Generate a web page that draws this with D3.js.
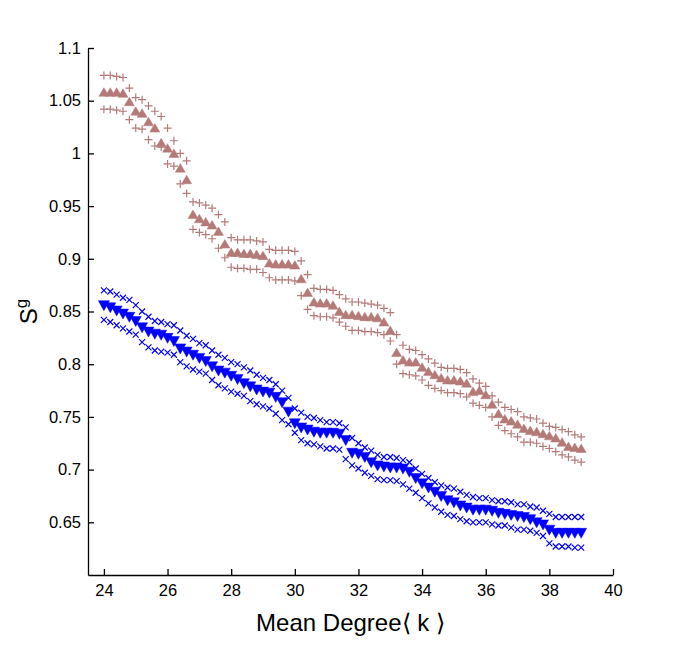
<!DOCTYPE html>
<html>
<head>
<meta charset="utf-8">
<script src="https://cdn.jsdelivr.net/npm/d3@7"></script>
<style>
    body { margin: 0; background: #fff; }
    text { font-family: "Liberation Sans", Arial, Helvetica, sans-serif; }
</style>
</head>
<body>
<svg id="chart" width="677" height="646"></svg>
<script>
// mean degree values, one per sample
const kValues = [
    24.0, 24.2, 24.4, 24.6, 24.8, 25.0, 25.2, 25.4, 25.6, 25.8,
    26.0, 26.2, 26.4, 26.6, 26.8, 27.0, 27.2, 27.4, 27.6, 27.8,
    28.0, 28.2, 28.4, 28.6, 28.8, 29.0, 29.2, 29.4, 29.6, 29.8,
    30.0, 30.2, 30.4, 30.6, 30.8, 31.0, 31.2, 31.4, 31.6, 31.8,
    32.0, 32.2, 32.4, 32.6, 32.8, 33.0, 33.2, 33.4, 33.6, 33.8,
    34.0, 34.2, 34.4, 34.6, 34.8, 35.0, 35.2, 35.4, 35.6, 35.8,
    36.0, 36.2, 36.4, 36.6, 36.8, 37.0, 37.2, 37.4, 37.6, 37.8,
    38.0, 38.2, 38.4, 38.6, 38.8, 39.0
];

// brown series (triangles up = mean, + = upper / lower)
const brownMean = [
    1.058, 1.058, 1.058, 1.057, 1.049, 1.040, 1.038, 1.030, 1.024, 1.010,
    1.005, 1.000, 0.986, 0.975, 0.942, 0.938, 0.935, 0.932, 0.926, 0.914,
    0.906, 0.906, 0.905, 0.905, 0.904, 0.903, 0.896, 0.895, 0.895, 0.895,
    0.894, 0.881, 0.868, 0.859, 0.858, 0.858, 0.856, 0.850, 0.847, 0.847,
    0.846, 0.845, 0.845, 0.844, 0.840, 0.832, 0.811, 0.804, 0.802, 0.802,
    0.797, 0.793, 0.790, 0.787, 0.785, 0.785, 0.784, 0.782, 0.774, 0.775,
    0.771, 0.762, 0.753, 0.748, 0.746, 0.743, 0.739, 0.737, 0.736, 0.734,
    0.732, 0.730, 0.726, 0.722, 0.721, 0.720
];
const brownUpper = [
    1.074, 1.074, 1.073, 1.072, 1.062, 1.053, 1.051, 1.045, 1.040, 1.035,
    1.024, 1.012, 1.000, 0.993, 0.954, 0.953, 0.951, 0.948, 0.942, 0.935,
    0.920, 0.918, 0.918, 0.918, 0.917, 0.916, 0.909, 0.908, 0.908, 0.908,
    0.907, 0.898, 0.885, 0.872, 0.871, 0.871, 0.870, 0.866, 0.862, 0.859,
    0.859, 0.858, 0.857, 0.856, 0.853, 0.849, 0.828, 0.818, 0.814, 0.813,
    0.809, 0.805, 0.801, 0.797, 0.796, 0.796, 0.795, 0.792, 0.786, 0.782,
    0.779, 0.770, 0.764, 0.759, 0.757, 0.755, 0.750, 0.749, 0.748, 0.744,
    0.741, 0.740, 0.738, 0.736, 0.733, 0.731
];
const brownLower = [
    1.042, 1.042, 1.041, 1.040, 1.032, 1.024, 1.023, 1.013, 1.007, 1.006,
    0.990, 0.988, 0.971, 0.962, 0.928, 0.925, 0.923, 0.919, 0.910, 0.901,
    0.892, 0.891, 0.891, 0.890, 0.890, 0.887, 0.882, 0.880, 0.880, 0.880,
    0.879, 0.865, 0.852, 0.846, 0.845, 0.845, 0.844, 0.840, 0.836, 0.832,
    0.832, 0.831, 0.831, 0.830, 0.828, 0.822, 0.800, 0.791, 0.790, 0.789,
    0.785, 0.780, 0.777, 0.775, 0.773, 0.773, 0.772, 0.769, 0.763, 0.761,
    0.759, 0.750, 0.742, 0.737, 0.734, 0.731, 0.726, 0.726, 0.725, 0.722,
    0.720, 0.717, 0.714, 0.712, 0.709, 0.707
];

// blue series (triangles down = mean, x = upper / lower)
const blueMean = [
    0.856, 0.854, 0.851, 0.848, 0.845, 0.841, 0.835, 0.831, 0.829, 0.828,
    0.825, 0.822, 0.815, 0.812, 0.809, 0.806, 0.803, 0.798, 0.794, 0.792,
    0.789, 0.786, 0.782, 0.779, 0.776, 0.774, 0.773, 0.769, 0.764, 0.755,
    0.744, 0.740, 0.738, 0.736, 0.735, 0.735, 0.735, 0.734, 0.728, 0.716,
    0.715, 0.712, 0.707, 0.704, 0.703, 0.702, 0.702, 0.701, 0.698, 0.692,
    0.687, 0.683, 0.679, 0.675, 0.671, 0.669, 0.666, 0.664, 0.662, 0.662,
    0.662, 0.661, 0.659, 0.658, 0.657, 0.656, 0.655, 0.653, 0.650, 0.648,
    0.643, 0.640, 0.640, 0.640, 0.640, 0.640
];
const blueUpper = [
    0.870, 0.869, 0.866, 0.863, 0.861, 0.856, 0.850, 0.845, 0.841, 0.840,
    0.838, 0.837, 0.832, 0.827, 0.824, 0.820, 0.818, 0.813, 0.809, 0.806,
    0.802, 0.800, 0.797, 0.794, 0.790, 0.787, 0.785, 0.781, 0.775, 0.768,
    0.758, 0.754, 0.750, 0.749, 0.747, 0.745, 0.745, 0.744, 0.740, 0.730,
    0.725, 0.721, 0.718, 0.714, 0.712, 0.712, 0.711, 0.709, 0.707, 0.701,
    0.696, 0.692, 0.688, 0.685, 0.683, 0.682, 0.679, 0.676, 0.674, 0.673,
    0.673, 0.671, 0.670, 0.670, 0.669, 0.667, 0.667, 0.665, 0.664, 0.661,
    0.658, 0.655, 0.655, 0.655, 0.655, 0.655
];
const blueLower = [
    0.842, 0.840, 0.837, 0.834, 0.831, 0.828, 0.821, 0.816, 0.813, 0.812,
    0.811, 0.809, 0.802, 0.798, 0.795, 0.793, 0.791, 0.785, 0.780, 0.777,
    0.774, 0.772, 0.770, 0.765, 0.762, 0.760, 0.758, 0.753, 0.747, 0.743,
    0.735, 0.728, 0.725, 0.724, 0.722, 0.720, 0.720, 0.719, 0.710, 0.704,
    0.701, 0.697, 0.694, 0.691, 0.690, 0.690, 0.689, 0.686, 0.682, 0.678,
    0.673, 0.668, 0.664, 0.660, 0.657, 0.656, 0.653, 0.651, 0.650, 0.650,
    0.650, 0.648, 0.647, 0.647, 0.645, 0.643, 0.643, 0.642, 0.640, 0.637,
    0.630, 0.627, 0.627, 0.627, 0.626, 0.626
];

const xTicks = [24, 26, 28, 30, 32, 34, 36, 38, 40];
const yTicks = [0.65, 0.7, 0.75, 0.8, 0.85, 0.9, 0.95, 1, 1.05, 1.1];

const brownColor = "#b47a78";
const blueColor = "#0000ff";

let margin = { top: 48, right: 64, bottom: 71, left: 88 };
let width = 677, height = 646;

const svg = d3.select("#chart");

let xScale = d3.scaleLinear()
    .domain([23.5, 40])
    .range([margin.left, width - margin.right]);
let yScale = d3.scaleLinear()
    .domain([0.6, 1.1])
    .range([height - margin.bottom, margin.top]);

// axes, ticks point inward
const xAxis = svg.append("g")
    .attr("transform", `translate(0, ${height - margin.bottom})`)
    .call(d3.axisBottom(xScale)
        .tickValues(xTicks)
        .tickSizeInner(-6)
        .tickSizeOuter(0)
        .tickPadding(9)
        .tickFormat(d3.format("d")));
const yAxis = svg.append("g")
    .attr("transform", `translate(${margin.left}, 0)`)
    .call(d3.axisLeft(yScale)
        .tickValues(yTicks)
        .tickSizeInner(-6)
        .tickSizeOuter(0)
        .tickPadding(7)
        .tickFormat(d => String(+d.toFixed(2))));
[xAxis, yAxis].forEach(a => {
    a.selectAll("path, line").attr("stroke", "#000").attr("stroke-width", 1.3);
    a.selectAll("text")
        .attr("fill", "#000")
        .style("font-size", "16.5px")
        .style("font-family", "'Liberation Sans', Arial, sans-serif");
});

svg.append("text")
    .attr("x", (margin.left + width - margin.right) / 2)
    .attr("y", 631)
    .attr("text-anchor", "middle")
    .style("font-size", "24px")
    .text("Mean Degree\u27E8 k \u27E9");

const yLab = svg.append("text")
    .attr("transform", `translate(37, ${(margin.top + height - margin.bottom) / 2}) rotate(-90)`)
    .attr("text-anchor", "middle")
    .style("font-size", "24px");
yLab.append("tspan").text("S");
yLab.append("tspan").attr("dy", -10).style("font-size", "17px").text("g");

// marker paths
const plus = (x, y) => `M${x - 4},${y}H${x + 4}M${x},${y - 4}V${y + 4}`;
const cross = (x, y) => `M${x - 3},${y - 3}L${x + 3},${y + 3}M${x - 3},${y + 3}L${x + 3},${y - 3}`;
const triUp = (x, y) => `M${x - 5},${y + 4}L${x + 5},${y + 4}L${x},${y - 4.5}Z`;
const triDown = (x, y) => `M${x - 5.5},${y - 4.5}L${x + 5.5},${y - 4.5}L${x},${y + 5.5}Z`;

function drawMarkers(values, shape, color, filled) {
    const pts = kValues.map((k, i) => ({ k: k, v: values[i] }));
    svg.append("g")
        .selectAll("path")
        .data(pts)
        .join("path")
        .attr("d", d => shape(xScale(d.k), yScale(d.v)))
        .attr("fill", filled ? color : "none")
        .attr("stroke", color)
        .attr("stroke-width", filled ? 0.5 : 1.2);
}

drawMarkers(brownUpper, plus, brownColor, false);
drawMarkers(brownLower, plus, brownColor, false);
drawMarkers(brownMean, triUp, brownColor, true);

drawMarkers(blueUpper, cross, blueColor, false);
drawMarkers(blueLower, cross, blueColor, false);
drawMarkers(blueMean, triDown, blueColor, true);
</script>
</body>
</html>
